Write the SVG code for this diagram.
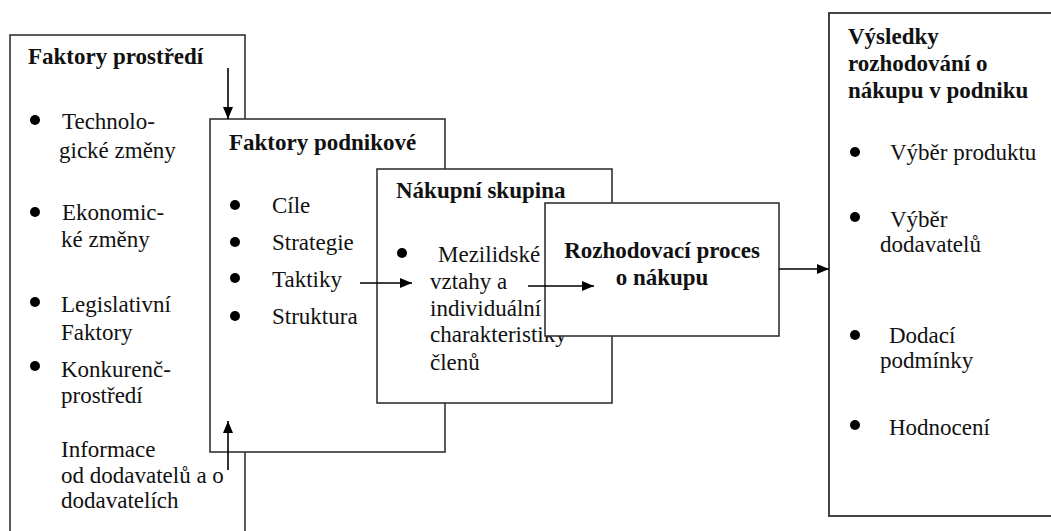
<svg xmlns="http://www.w3.org/2000/svg" width="1051" height="531" viewBox="0 0 1051 531">
<style>
.box{fill:#fff;stroke:#333;stroke-width:1.6}
.t{font-family:'Liberation Serif',Tinos,'Times New Roman',Times,'DejaVu Serif',serif;font-size:23px;fill:#111}
.b{font-weight:bold}
.dot{fill:#000}
.con{stroke:#000;stroke-width:1.6;fill:none}
</style>
<defs>
<marker id="ah" viewBox="0 0 12 10" refX="12" refY="5" markerWidth="12" markerHeight="10" markerUnits="userSpaceOnUse" orient="auto">
<path d="M0,0 L12,5 L0,10 Z" fill="#000"/>
</marker>
</defs>
<g id="node-prostredi">
<rect class="box" x="10" y="35" width="235" height="520"/>
<text class="t b" x="28" y="64">Faktory prostředí</text>
<circle class="dot" cx="35" cy="120" r="5"/>
<text class="t" x="62" y="129">Technolo-</text>
<text class="t" x="59" y="158">gické změny</text>
<circle class="dot" cx="35" cy="212" r="5"/>
<text class="t" x="62" y="220">Ekonomic-</text>
<text class="t" x="61" y="247">ké změny</text>
<circle class="dot" cx="35" cy="302" r="5"/>
<text class="t" x="61" y="312">Legislativní</text>
<text class="t" x="61" y="340">Faktory</text>
<circle class="dot" cx="35" cy="366" r="5"/>
<text class="t" x="61" y="377">Konkurenč-</text>
<text class="t" x="61" y="403">prostředí</text>
<text class="t" x="61" y="457">Informace</text>
<text class="t" x="61" y="483">od dodavatelů a o</text>
<text class="t" x="61" y="508">dodavatelích</text>
</g>
<g id="node-podnikove">
<rect class="box" x="210" y="119" width="235" height="333"/>
<text class="t b" x="229" y="150">Faktory podnikové</text>
<circle class="dot" cx="235" cy="205" r="5"/>
<text class="t" x="272" y="213">Cíle</text>
<circle class="dot" cx="235" cy="242" r="5"/>
<text class="t" x="272" y="250">Strategie</text>
<circle class="dot" cx="235" cy="278" r="5"/>
<text class="t" x="272" y="287">Taktiky</text>
<circle class="dot" cx="235" cy="316" r="5"/>
<text class="t" x="272" y="324">Struktura</text>
</g>
<g id="node-skupina">
<rect class="box" x="377" y="169" width="235" height="234"/>
<text class="t b" x="396" y="198">Nákupní skupina</text>
<circle class="dot" cx="402" cy="253" r="5"/>
<text class="t" x="438" y="262">Mezilidské</text>
<text class="t" x="430" y="289">vztahy a</text>
<text class="t" x="430" y="316">individuální</text>
<text class="t" x="430" y="342">charakteristiky</text>
<text class="t" x="430" y="370">členů</text>
</g>
<g id="node-proces">
<rect class="box" x="545" y="203" width="234" height="133"/>
<text class="t b" x="662" y="258" text-anchor="middle">Rozhodovací proces</text>
<text class="t b" x="662" y="285" text-anchor="middle">o nákupu</text>
</g>
<g id="node-vysledky">
<rect class="box" x="829" y="13" width="240" height="503" style="stroke:#444;stroke-width:2"/>
<text class="t b" x="848" y="44">Výsledky</text>
<text class="t b" x="848" y="71">rozhodování o</text>
<text class="t b" x="848" y="98">nákupu v podniku</text>
<circle class="dot" cx="855" cy="152" r="5"/>
<text class="t" x="890" y="160">Výběr produktu</text>
<circle class="dot" cx="855" cy="217" r="5"/>
<text class="t" x="890" y="227">Výběr</text>
<text class="t" x="880" y="252">dodavatelů</text>
<circle class="dot" cx="855" cy="335" r="5"/>
<text class="t" x="889" y="343">Dodací</text>
<text class="t" x="880" y="368">podmínky</text>
<circle class="dot" cx="855" cy="425" r="5"/>
<text class="t" x="889" y="435">Hodnocení</text>
</g>
<g id="connectors">
<line class="con" x1="228" y1="68" x2="228" y2="119" marker-end="url(#ah)"/>
<line class="con" x1="228" y1="470" x2="228" y2="421" marker-end="url(#ah)"/>
<line class="con" x1="360" y1="283" x2="412" y2="283" marker-end="url(#ah)"/>
<line class="con" x1="528" y1="286" x2="594" y2="286" marker-end="url(#ah)"/>
<line class="con" x1="779" y1="269" x2="829" y2="269" marker-end="url(#ah)"/>
</g>
</svg>
